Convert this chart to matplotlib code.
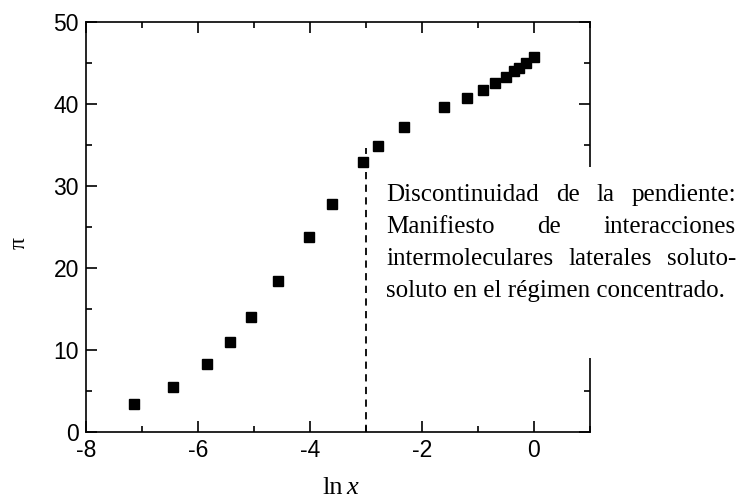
import matplotlib
matplotlib.use("Agg")
import matplotlib.pyplot as plt
from matplotlib.patches import Rectangle
from matplotlib.ticker import MultipleLocator

plt.rcParams['axes.unicode_minus'] = False

# Data
ln_x = [-7.14, -6.45, -5.84, -5.43, -5.05, -4.57, -4.02, -3.61, -3.05,
        -2.79, -2.32, -1.61, -1.20, -0.91, -0.70, -0.50, -0.36, -0.27, -0.14, 0.0]
pi_vals = [3.4, 5.5, 8.3, 11.0, 14.0, 18.4, 23.8, 27.8, 32.9,
           34.9, 37.2, 39.6, 40.7, 41.7, 42.5, 43.3, 44.0, 44.4, 45.0, 45.7]
break_x = -3.0
break_y = [0, 34.6]
note_lines = ["Discontinuidad de la pendiente:",
              "Manifiesto de interacciones",
              "intermoleculares laterales soluto-",
              "soluto en el régimen concentrado."]

W, H = 739, 499
fig = plt.figure(figsize=(W / 100, H / 100), dpi=100)
ax = fig.add_axes([86 / W, (H - 432) / H, 504 / W, 410 / H])

ax.plot(ln_x, pi_vals, linestyle='none', marker='s', markersize=7,
        color='black', zorder=3)
ax.plot([break_x, break_x], break_y, linestyle=(0, (4, 3)), color='black', lw=1.3)

ax.set_xlim(-8, 1)
ax.set_ylim(0, 50)
ax.xaxis.set_major_locator(MultipleLocator(2))
ax.xaxis.set_minor_locator(MultipleLocator(1))
ax.yaxis.set_major_locator(MultipleLocator(10))
ax.yaxis.set_minor_locator(MultipleLocator(5))
ax.tick_params(which='both', direction='in', top=True, right=True, width=1.2)
ax.tick_params(which='major', length=8, labelsize=16.5, pad=5)
ax.tick_params(which='minor', length=4)
for lab in ax.get_xticklabels() + ax.get_yticklabels():
    lab.set_family('Liberation Sans')
for s in ax.spines.values():
    s.set_linewidth(1.2)

# axis labels
fig.text(343 / W, (H - 494) / H, 'ln', family='Liberation Serif', fontsize=19,
         ha='right', va='baseline')
fig.text(346 / W, (H - 494) / H, 'x', family='Liberation Serif', style='italic',
         fontsize=19, ha='left', va='baseline')
fig.text(19 / W, 1 - 243 / H, 'π', family='Liberation Serif', fontsize=17,
         rotation=90, ha='center', va='center')

# white box covering right spine
fig.add_artist(Rectangle((375 / W, (H - 358) / H), (W - 375) / W, (358 - 167) / H,
                         transform=fig.transFigure, facecolor='white',
                         edgecolor='none', zorder=5))

# justified note text
renderer = fig.canvas.get_renderer()
x_left, x_right = 386, 736
baselines = [201, 233, 265, 297]
fs = 18
for i, line in enumerate(note_lines):
    yb = (H - baselines[i]) / H
    words = line.split(' ')
    if i == len(note_lines) - 1:
        fig.text(x_left / W, yb, line, family='Liberation Serif', fontsize=fs,
                 ha='left', va='baseline', zorder=6)
        continue
    texts = [fig.text(0, yb, w_, family='Liberation Serif', fontsize=fs,
                      ha='left', va='baseline', zorder=6) for w_ in words]
    widths = [t.get_window_extent(renderer).width for t in texts]
    gap = (x_right - x_left - sum(widths)) / (len(words) - 1)
    xpos = x_left
    for t, wd in zip(texts, widths):
        t.set_x(xpos / W)
        xpos += wd + gap

fig.savefig('out.png', dpi=100)
